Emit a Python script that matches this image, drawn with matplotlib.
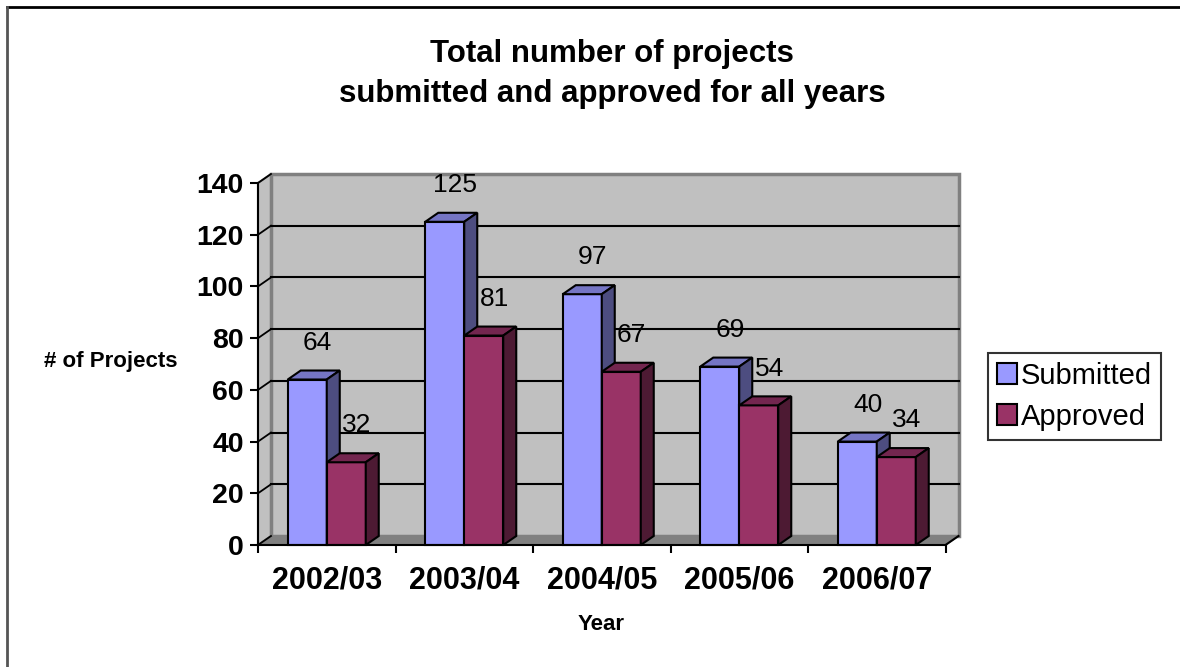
import matplotlib
matplotlib.use('Agg')
import matplotlib.pyplot as plt
from matplotlib.patches import Polygon, Rectangle, Patch
from matplotlib.lines import Line2D
import numpy as np

years = ['2002/03', '2003/04', '2004/05', '2005/06', '2006/07']
submitted = [64, 125, 97, 69, 40]
approved = [32, 81, 67, 54, 34]
yticks = [0, 20, 40, 60, 80, 100, 120, 140]

plt.rcParams['font.family'] = ['Liberation Sans', 'DejaVu Sans']

W, H = 1180, 667
fig = plt.figure(figsize=(W / 100, H / 100), dpi=100)

# front plane of the 3d box, in pixels
left, right, bottom, top = 258, 945.5, 545, 183
ax = fig.add_axes([left / W, 1 - bottom / H, (right - left) / W, (bottom - top) / H])
n = len(years)
ymax = yticks[-1]
ax.set_xlim(0, n)
ax.set_ylim(0, ymax)
ax.patch.set_visible(False)

# depth of the box (13px right, 9px up) in data units
dx = 13 / ((right - left) / n)
dy = 9 / ((bottom - top) / ymax)

# walls and floor
ax.add_patch(Polygon([(0, 0), (0, ymax), (dx, ymax + dy), (dx, dy)],
                     fc='#C0C0C0', ec='#808080', lw=1.5, clip_on=False, zorder=0))
ax.add_patch(Rectangle((dx, dy), n, ymax, fc='#C0C0C0', ec='#808080',
                       lw=2.5, clip_on=False, zorder=0))
ax.add_patch(Polygon([(0, 0), (n, 0), (n + dx, dy), (dx, dy)],
                     fc='#808080', ec='#808080', lw=1, clip_on=False, zorder=0.5))
ax.plot([n, n + dx], [0, dy], color='black', lw=1.5, clip_on=False, zorder=1)

# gridlines
for v in yticks:
    ax.plot([0, dx], [v, v + dy], color='black', lw=1.3, clip_on=False, zorder=1)
    if 0 < v < ymax:
        ax.plot([dx, n + dx], [v + dy, v + dy], color='black', lw=1.5,
                clip_on=False, zorder=1)

# bars
w = 39 / ((right - left) / n)
xc = np.arange(n) + 0.5
series = [
    (submitted, xc - w / 2, '#9999FF', '#7575C4', '#4D4D80', 'Submitted'),
    (approved, xc + w / 2, '#993366', '#73264F', '#4D1A33', 'Approved'),
]
for k, (vals, xs, front, topc, side, name) in enumerate(series):
    z = 3 + k
    ax.bar(xs, vals, w, color=front, edgecolor='black', lw=1.5, zorder=z, clip_on=False)
    for x, v in zip(xs, vals):
        a, b = x - w / 2, x + w / 2
        ax.add_patch(Polygon([(a, v), (b, v), (b + dx, v + dy), (a + dx, v + dy)],
                             fc=topc, ec='black', lw=1.5, zorder=z, clip_on=False))
        ax.add_patch(Polygon([(b, 0), (b, v), (b + dx, v + dy), (b + dx, dy)],
                             fc=side, ec='black', lw=1.5, zorder=z, clip_on=False))
        ax.annotate(str(v), (x, v), xytext=(7.5, 26.5), textcoords='offset points',
                    ha='center', va='center', fontsize=19, zorder=10)

# axes
for s in ['top', 'right']:
    ax.spines[s].set_visible(False)
for s in ['left', 'bottom']:
    ax.spines[s].set_linewidth(1.5)
    ax.spines[s].set_zorder(6)
ax.set_yticks(yticks)
ax.set_yticklabels([str(t) for t in yticks], fontsize=20.5, fontweight='bold')
ax.tick_params(axis='y', length=5.8, width=1.5, pad=4.5)
ax.set_xticks(xc)
ax.set_xticklabels(years, fontsize=22, fontweight='bold')
ax.set_xticks(np.arange(n + 1), minor=True)
ax.tick_params(axis='x', which='major', length=0, pad=15)
ax.tick_params(axis='x', which='minor', length=5.8, width=1.5)

fig.text(111 / W, 1 - 362 / H, '# of Projects', ha='center', va='center',
         fontsize=16, fontweight='bold')
fig.text(601 / W, 1 - 625 / H, 'Year', ha='center', va='center',
         fontsize=16, fontweight='bold')
fig.text(612 / W, 1 - 74 / H, 'Total number of projects\nsubmitted and approved for all years',
         ha='center', va='center', fontsize=22.5, fontweight='bold', linespacing=1.4)

handles = [Patch(fc=s[2], ec='black', lw=1.5) for s in series]
leg = fig.legend(handles, [s[5] for s in series], loc='upper left',
                 bbox_to_anchor=(988 / W, 1 - 353 / H), fontsize=21,
                 frameon=True, fancybox=False, edgecolor='black',
                 handlelength=0.7, handleheight=0.7, handletextpad=0.12,
                 labelspacing=0.45, borderpad=0.3, borderaxespad=0)
leg.get_frame().set_linewidth(1.5)

# chart border (only top and left edges visible)
fig.add_artist(Line2D([7 / W, 1], [1 - 7 / H, 1 - 7 / H], color='black', lw=2))
fig.add_artist(Line2D([7 / W, 7 / W], [0, 1 - 7 / H], color='#555555', lw=2))

fig.savefig('out.png', dpi=100)
